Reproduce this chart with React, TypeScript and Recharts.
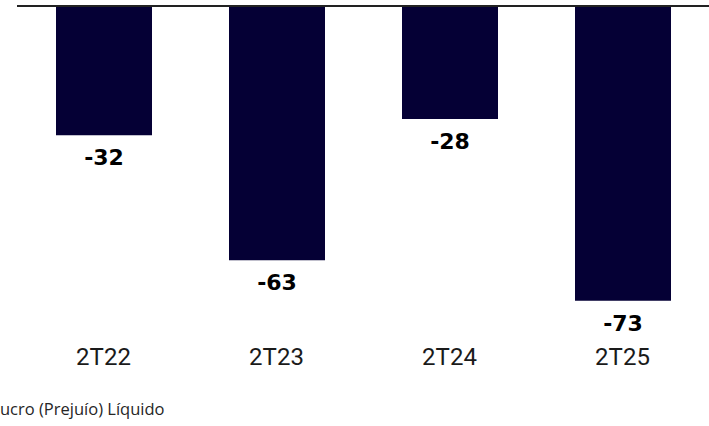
import { BarChart, Bar, XAxis, YAxis, ReferenceLine, LabelList } from "recharts";

const quarters = ["2T22", "2T23", "2T24", "2T25"];
const netResult = [-32, -63, -28, -73];
const seriesName = "ucro (Prejuío) Líquido";

const data = quarters.map((q, i) => ({ quarter: q, value: netResult[i] }));

const BAR_COLOR = "#050035";

const QuarterTick = (props: any) => {
  const { x, y, payload } = props;
  return (
    <text
      x={x}
      y={y}
      dy={28}
      textAnchor="middle"
      fill="#1a1a1a"
      fontFamily="Roboto, sans-serif"
      fontSize={24}
    >
      {payload.value}
    </text>
  );
};

const ValueLabel = (props: any) => {
  const { x, y, width, height, value } = props;
  const bottom = Math.max(y, y + height);
  return (
    <text
      x={x + width / 2}
      y={bottom + 30}
      textAnchor="middle"
      fill="#000"
      fontFamily="'DejaVu Sans', sans-serif"
      fontWeight={700}
      fontSize={22}
    >
      {value}
    </text>
  );
};

const App = () => {
  return (
    <div style={{ position: "absolute", left: 0, top: 0, width: 709, height: 426, background: "#fff" }}>
      <BarChart
        width={709}
        height={390}
        data={data}
        margin={{ top: 6, right: 0, left: 17, bottom: 0 }}
      >
        <XAxis
          dataKey="quarter"
          height={61}
          axisLine={false}
          tickLine={false}
          tick={<QuarterTick />}
        />
        <YAxis hide domain={[-80, 0]} />
        <Bar dataKey="value" fill={BAR_COLOR} barSize={96} isAnimationActive={false}>
          <LabelList dataKey="value" content={<ValueLabel />} />
        </Bar>
        <ReferenceLine y={0} stroke="#222" strokeWidth={2} />
      </BarChart>
      <div
        style={{
          position: "absolute",
          left: 0,
          top: 397,
          fontFamily: "'Open Sans', sans-serif",
          fontSize: 16.5,
          color: "#262626",
          whiteSpace: "nowrap",
        }}
      >
        {seriesName}
      </div>
    </div>
  );
};

export default App;
